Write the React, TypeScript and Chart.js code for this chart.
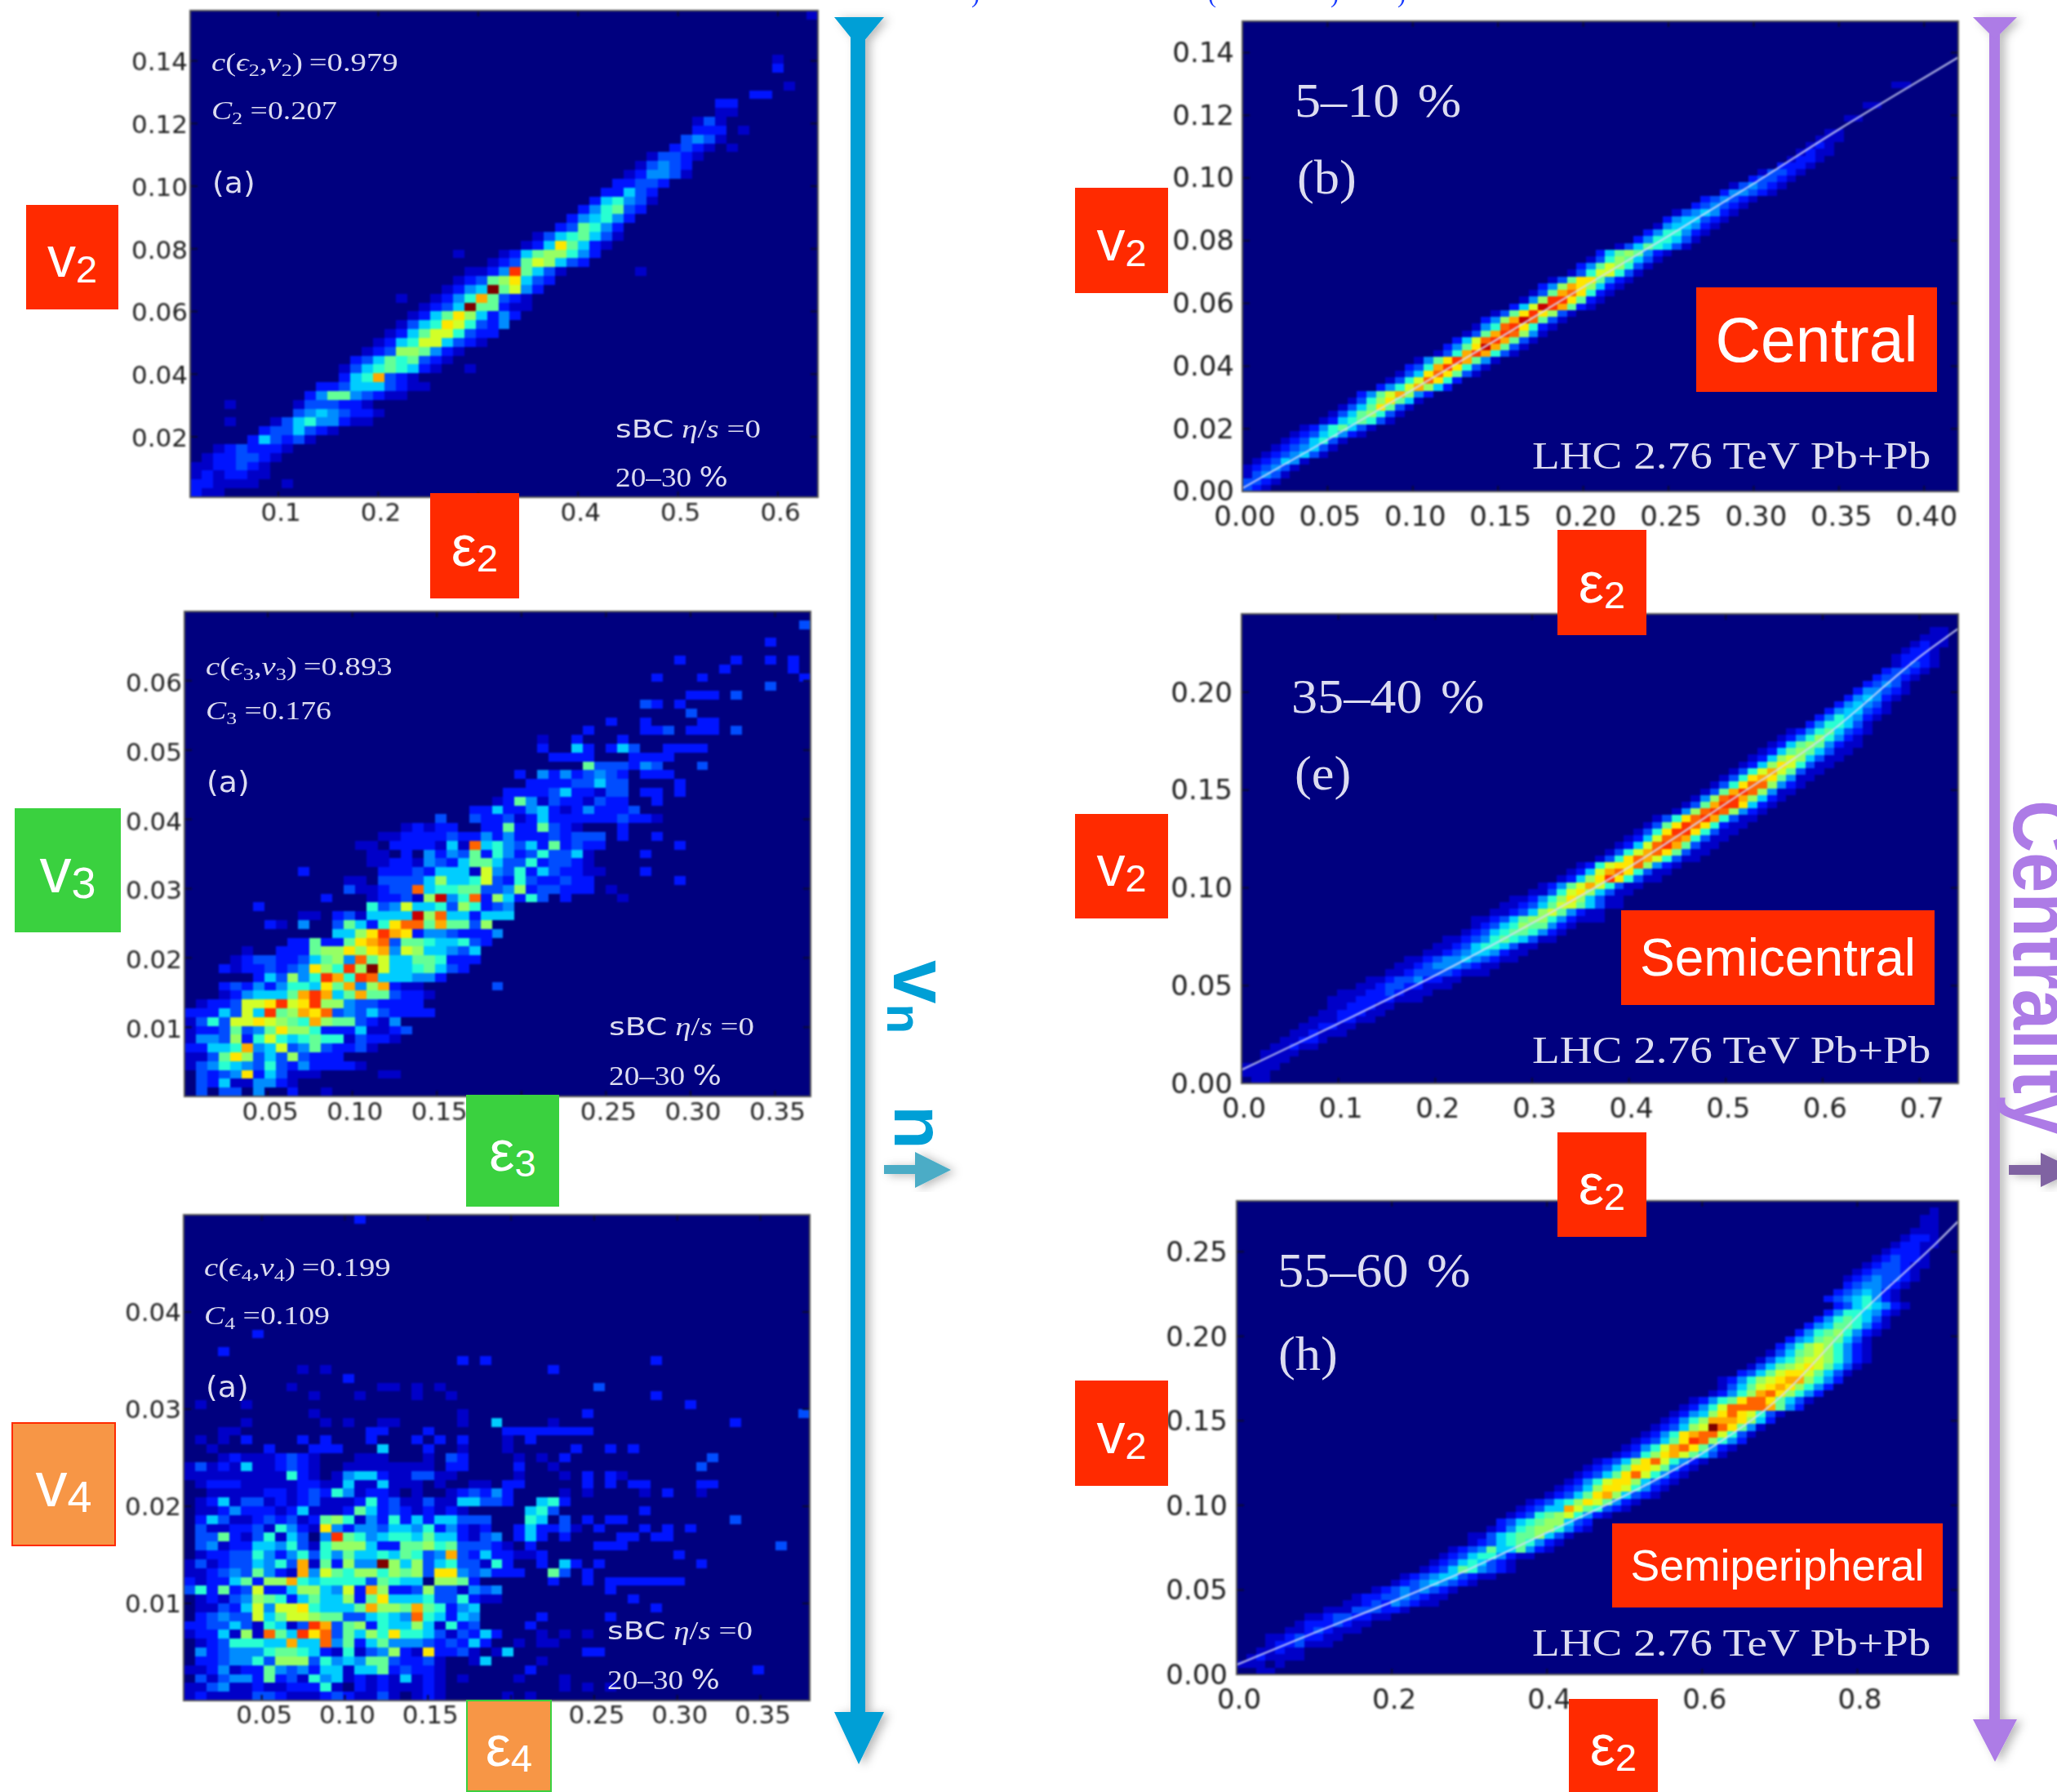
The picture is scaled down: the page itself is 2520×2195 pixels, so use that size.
import React, { useEffect, useRef } from "react";
import { Chart, registerables } from "chart.js";

Chart.register(...registerables);

type Row = [number, number, string];

// Histogram bins: [row from bottom, first column, one hex level per cell]
const cellsV2E2: Row[] = [
  [0, 0, "211"], [1, 0, "221111"], [1, 8, "1"], [2, 0, "1212211"], [3, 0, "1122321"], [4, 1, "1223321"],
  [5, 2, "1232221"], [6, 5, "253231"], [7, 6, "2335321"], [8, 3, "1000135644211"], [9, 9, "34543221"],
  [10, 3, "1"], [10, 9, "1333221"], [11, 10, "247743211"], [12, 11, "2235553211"], [13, 13, "256b321"],
  [14, 13, "135676521"], [14, 24, "1"], [15, 14, "235767321"], [16, 15, "123887421"], [17, 16, "1256995321"],
  [18, 17, "1257996322"], [19, 18, "1356a96324"], [20, 19, "1257a85242"], [21, 20, "1235f77211"],
  [22, 18, "1"], [22, 21, "1246b7321"], [23, 22, "1245f7942"], [24, 23, "12378a532"], [25, 24, "1124d7531"],
  [25, 39, "1"], [26, 26, "123798532"], [27, 23, "1"], [27, 27, "125788642"], [28, 29, "125a7521"],
  [29, 30, "13567531"], [30, 32, "237642"], [31, 33, "245642"], [32, 34, "246732"], [33, 35, "256431"],
  [34, 36, "22532"], [35, 37, "22332"], [36, 38, "124431"], [37, 39, "13432"], [38, 40, "13321"],
  [39, 42, "2321"], [39, 47, "1"], [40, 43, "3431"], [41, 44, "22201"], [42, 44, "131"], [43, 46, "11"],
  [44, 46, "22"], [45, 49, "22"], [46, 52, "1"], [48, 51, "2"], [49, 51, "1"], [54, 54, "1"],
];

const cellsV3E3: Row[] = [
  [0, 0, "0303304002001"], [1, 0, "0325114421"], [2, 0, "03234a2531110000011"], [3, 0, "1346543632422221"],
  [4, 0, "1137a835383222"], [5, 0, "22556b45934732231"], [6, 0, "1443826965676613221"],
  [7, 0, "12237347a88622251123"], [8, 0, "136399a9876b8773214"], [9, 0, "2225395d78bac343532222"],
  [10, 1, "122399ad9ad884332222"], [11, 3, "1245557bdb57b773221"], [12, 3, "232424665a7b48b211"], [12, 27, "3"],
  [13, 6, "253846db6dc555442"], [14, 3, "21223234a86d8f95567532"], [15, 4, "12332235784c7955776222"],
  [16, 5, "100222788a8ab49855435"], [17, 9, "227227abc377655632"], [18, 13, "558adba24432224"],
  [19, 7, "21040037526acc7b7738"], [20, 10, "1102315555e8c552555"], [21, 6, "20000000006349556386234"],
  [22, 12, "2000122318e46c2852630200001"], [23, 14, "311233c56677334823322201"],
  [24, 14, "110333358556932632232200000002"], [25, 10, "2000000222325551943625322110002"],
  [26, 16, "11221432577533623321"], [27, 16, "1102042437264236335100002"],
  [28, 15, "110222215"], [28, 24, "1c564352723220000002"], [29, 17, "1122223"], [29, 24, "224242223233302002"],
  [30, 19, "12122"], [30, 26, "2272273210002"], [31, 22, "3"], [31, 25, "32231252222223221"],
  [32, 25, "225224521242223"], [33, 27, "127413221322002"], [34, 28, "2222352213302202"],
  [35, 30, "22223353300002"], [36, 29, "20424234320222"], [37, 35, "73332430003"], [38, 32, "22220002222"],
  [39, 31, "200520253002222"], [40, 31, "10020002"], [41, 35, "20000223022203"], [42, 37, "2002000022"],
  [43, 44, "3"], [44, 40, "3202"], [45, 44, "22203"], [46, 51, "3"], [47, 41, "20002"], [47, 54, "2"],
  [48, 47, "2"], [48, 53, "2"], [49, 43, "200002"], [49, 51, "202"], [51, 51, "2"], [53, 54, "3"],
];

const cellsV4E4: Row[] = [
  [0, 0, "12111133211123211310121000001"], [0, 30, "1"], [1, 0, "11341121122261021211121"], [1, 33, "10101"],
  [2, 0, "0313442723164512121512101"], [2, 29, "1"], [2, 33, "1"], [3, 0, "11241227434255155723221"], [3, 30, "2"], [3, 50, "2"],
  [4, 0, "022344638883645477322310015"], [4, 31, "1"], [5, 0, "042344467765216134821a2231015"], [5, 35, "22"],
  [6, 0, "012366655b55c47257444323252"], [6, 29, "101"], [6, 32, "1"], [7, 0, "1225181c75dac37586a665313252"], [7, 31, "10101"],
  [8, 0, "22335316513db3782655851623"], [8, 30, "2"], [9, 0, "02343395799877335654c65254"], [9, 31, "2"], [9, 37, "2"],
  [10, 0, "0113259499a65557b887b76245"], [10, 41, "2"], [11, 0, "01213487625755827a5556336211"], [11, 39, "2"],
  [12, 0, "3627239225885492b82238331434"], [12, 37, "2"], [13, 0, "212257288b6566663765508872"], [13, 32, "200202222222"],
  [14, 0, "1123437421b49768868783aa434222007302"], [15, 0, "1312335463b172844f8583563316200205202"], [15, 45, "2"],
  [16, 0, "01223364246364755657634b32522112"], [16, 43, "2"], [17, 0, "034122554631688852277867333210200000222"], [17, 52, "3"],
  [18, 0, "0337213615304d76456657552134025202"], [18, 38, "22022"], [19, 0, "031122316421a42443554624212"], [19, 29, "2522310200020202"],
  [20, 0, "025311232312786142625255333"], [20, 30, "650302022"], [20, 48, "3"], [21, 0, "0112422212511127523212121"], [21, 30, "563"], [21, 40, "2"],
  [22, 0, "01251331212311126231131155332"], [22, 31, "562"], [23, 0, "00111112212326412210100123242"], [23, 33, "1010000102001"],
  [24, 0, "01222111112211511511101001102"], [24, 29, "200000202022000022"], [25, 0, "111111111621014552113311"], [25, 29, "1000102021"],
  [26, 0, "1312151123210011111111022"], [26, 29, "2001"], [26, 45, "3"], [27, 0, "0001211123210001110001032"], [27, 29, "10102"], [27, 46, "3"],
  [28, 2, "10000200022200050002001000100000200202"],
  [29, 1, "101020000202000200020202000102"], [30, 3, "11"], [30, 16, "22"], [30, 21, "2"], [30, 28, "22222222"],
  [31, 5, "1"], [31, 12, "1"], [31, 14, "1"], [31, 17, "11"], [31, 24, "1"], [31, 27, "5"], [31, 32, "1"], [31, 48, "2"],
  [32, 11, "1"], [32, 24, "1"], [32, 35, "2"], [32, 54, "3"], [33, 1, "1"], [33, 5, "1"], [33, 44, "2"],
  [34, 11, "1"], [34, 15, "1"], [34, 20, "1"], [34, 23, "1"], [34, 41, "2"], [35, 9, "1"], [35, 17, "11"], [35, 20, "1"], [35, 22, "1"], [35, 36, "3"],
  [36, 14, "2"], [37, 10, "1"], [37, 12, "1"], [37, 32, "2"], [38, 24, "2"], [38, 26, "2"], [38, 41, "2"], [39, 3, "2"], [41, 6, "2"], [54, 15, "2"],
];

const cellsCentral: Row[] = [
  [0, 0, "321"], [1, 0, "3321"], [2, 0, "13431"], [3, 0, "123431"], [4, 1, "123541"], [5, 2, "1234531"], [6, 3, "1234531"],
  [7, 4, "1235631"], [8, 5, "12356421"], [9, 6, "12467531"], [10, 8, "12567631"], [11, 9, "13578631"], [12, 10, "1357a731"],
  [13, 11, "1368a751"], [14, 12, "2479b842"], [15, 14, "2469b852"], [16, 15, "1369ca62"], [17, 16, "135aca731"], [18, 17, "236bda631"],
  [19, 18, "147adb741"], [20, 20, "136bdb631"], [21, 21, "247aeb731"], [22, 22, "259cdb731"], [23, 23, "137bdc841"], [24, 24, "146cda621"],
  [25, 25, "248bec731"], [26, 26, "137ada831"], [27, 28, "259edb721"], [28, 29, "148dda721"], [29, 30, "137bca621"], [30, 31, "248ba8521"],
  [31, 32, "137aa7421"], [32, 34, "13699631"], [33, 35, "24798631"], [34, 36, "13687531"], [35, 37, "25787421"], [36, 39, "13576531"],
  [37, 41, "2466531"], [38, 42, "2466421"], [39, 43, "1455421"], [40, 44, "2455321"], [41, 45, "1345421"], [42, 47, "234321"], [43, 48, "234321"],
  [44, 50, "244321"], [45, 51, "134321"], [46, 53, "23321"], [47, 54, "13321"], [48, 56, "2221"], [49, 57, "1221"], [50, 58, "1211"], [51, 59, "121"],
  [52, 60, "111"], [53, 61, "11"], [55, 63, "11"], [57, 65, "11"], [60, 68, "11"],
];

const cellsSemicentral: Row[] = [
  [0, 1, "11"], [1, 0, "111"], [2, 0, "1111"], [3, 2, "111"], [4, 2, "1111"], [5, 3, "11211"], [6, 4, "11221"], [7, 5, "112111"], [8, 6, "112211"],
  [9, 7, "1112211"], [10, 8, "1122211"], [11, 9, "1122211"], [12, 9, "1112222111"], [13, 10, "1112232111"], [14, 12, "1123322111"], [15, 13, "1123342211"],
  [16, 15, "11233332111"], [17, 16, "11234443211"], [18, 17, "112344543211"], [19, 19, "11234554211"], [20, 20, "11235665311"], [21, 21, "112346765311"],
  [22, 23, "12356776421"], [23, 24, "12356877421"], [24, 24, "11235788642111"], [25, 26, "112358974211"], [26, 27, "1123579975311"], [27, 28, "1124 68a85311".replace(" ", "")],
  [28, 30, "113 69a85311".replace(" ", "")], [29, 31, "1247 9b96311".replace(" ", "")], [30, 33, "1258ada6311"], [31, 34, "1259bca6311"], [32, 35, "1269aac8421"], [33, 37, "136acb96311"],
  [34, 38, "1369bca7311"], [35, 39, "1259cdb7311"], [36, 40, "1259ccb6311"], [37, 41, "136adda6311"], [38, 42, "137adca6211"], [39, 43, "136acdb6311"],
  [40, 45, "148cdc8421"], [41, 46, "137bdda521"], [42, 47, "148cdb8521"], [43, 48, "137bdc8411"], [44, 49, "136acc8421"], [45, 50, "136aba7411"],
  [46, 51, "1369b97311"], [47, 52, "1258a96311"], [48, 53, "125898 5311".replace(" ", "")], [49, 54, "1257875311"], [50, 55, "1257874211"], [51, 56, "124686421"], [52, 57, "124675321"],
  [53, 59, "2466531"], [54, 60, "2465421"], [55, 61, "2455321"], [56, 62, "245431"], [57, 63, "245421"], [58, 64, "244321"], [59, 65, "23431"],
  [60, 66, "23321"], [61, 67, "23321"], [62, 68, "12321"], [63, 68, "12221"], [64, 69, "1221"], [65, 70, "1211"], [66, 71, "111"], [67, 72, "11"],
];

const cellsSemiperipheral: Row[] = [
  [0, 2, "11"], [1, 0, "11101"], [2, 1, "121111"], [3, 2, "11211"], [4, 3, "1223111"], [5, 3, "11232211"], [6, 5, "11232111"], [7, 6, "12223211"],
  [8, 7, "112332211"], [9, 9, "111333221"], [10, 11, "1123243211"], [11, 12, "1223343211"], [12, 14, "123434321"], [13, 16, "123454321"],
  [14, 17, "1234553211"], [15, 19, "1235764321"], [16, 20, "123565321"], [17, 21, "1235664211"], [18, 22, "12347557421"], [19, 24, "1235676421"],
  [20, 24, "11356778531"], [21, 26, "12467886421"], [22, 27, "2356788532"], [23, 28, "12367896421"], [24, 29, "12355b976321"],
  [25, 30, "123568a97421"], [26, 32, "12357ab85321"], [27, 33, "12358aa96421"], [28, 34, "12469aa85321"], [29, 35, "12357ac96421"],
  [30, 36, "12357aa97421"], [31, 37, "12358ac96421"], [32, 39, "12368ab97531"], [33, 40, "12469bca7421"],
  [34, 41, "12357adc8642"], [35, 42, "1246abcc9631"], [36, 43, "123589fca741"], [37, 44, "12468bbba852"], [38, 45, "12458aca9631"],
  [39, 46, "12469ccccb742"], [40, 47, "12467acca7531"], [41, 49, "12468bca8642"], [42, 50, "13579aba8642"], [43, 50, "124689abb8642"],
  [44, 52, "23579aa97531"], [45, 53, "135789a97531"], [46, 54, "135689986421"], [47, 55, "13578986421"], [48, 56, "2468986421"], [49, 57, "245787531"],
  [50, 58, "246786421"], [51, 59, "245776421"], [52, 60, "24676531"], [53, 61, "24665421"], [54, 62, "23565421"], [55, 61, "23456421"], [56, 62, "2345421"],
  [57, 63, "2344321"], [58, 63, "12343321"], [59, 64, "1233321"], [60, 65, "1233211"], [61, 66, "123221"], [62, 67, "12221"], [63, 68, "12211"], [64, 69, "1221"],
  [65, 70, "111"], [66, 71, "11"], [67, 71, "11"], [68, 72, "1"],
];

// Fitted curves
const curveCentralX = [0, 0.05, 0.1, 0.15, 0.2, 0.25, 0.3, 0.35, 0.42];
const curveCentralY = [0.001, 0.0165, 0.0325, 0.0487, 0.0652, 0.0815, 0.0982, 0.1155, 0.1385];
const curveSemicentralX = [0, 0.1, 0.2, 0.3, 0.4, 0.5, 0.6, 0.7, 0.74];
const curveSemicentralY = [0.0069, 0.0306, 0.0552, 0.0819, 0.1105, 0.143, 0.1765, 0.218, 0.2325];
const curveSemiperipheralX = [0, 0.1, 0.2, 0.3, 0.4, 0.5, 0.6, 0.7, 0.8, 0.9, 0.93];
const curveSemiperipheralY = [0.0057, 0.0246, 0.0429, 0.0623, 0.0839, 0.1056, 0.1307, 0.1638, 0.2117, 0.2543, 0.268];

const ticksX2 = [0.1, 0.2, 0.3, 0.4, 0.5, 0.6];
const ticksY2 = [0.02, 0.04, 0.06, 0.08, 0.1, 0.12, 0.14];
const ticksX3 = [0.05, 0.1, 0.15, 0.2, 0.25, 0.3, 0.35];
const ticksY3 = [0.01, 0.02, 0.03, 0.04, 0.05, 0.06];
const ticksX4 = [0.05, 0.1, 0.15, 0.2, 0.25, 0.3, 0.35];
const ticksY4 = [0.01, 0.02, 0.03, 0.04];
const ticksXCentral = [0, 0.05, 0.1, 0.15, 0.2, 0.25, 0.3, 0.35, 0.4];
const ticksYCentral = [0, 0.02, 0.04, 0.06, 0.08, 0.1, 0.12, 0.14];
const ticksXSemicentral = [0, 0.1, 0.2, 0.3, 0.4, 0.5, 0.6, 0.7];
const ticksYSemicentral = [0, 0.05, 0.1, 0.15, 0.2];
const ticksXSemiperipheral = [0, 0.2, 0.4, 0.6, 0.8];
const ticksYSemiperipheral = [0, 0.05, 0.1, 0.15, 0.2, 0.25];

const JET = ["#00007f", "#0000c8", "#0014ff", "#004dff", "#008cff", "#00cdff", "#28ffd2", "#64ff96", "#96ff64", "#d2ff28", "#ffe600", "#ffaa00", "#ff6400", "#ff3200", "#c80000", "#7f0000"];

const heatPlugin = {
  id: "heat",
  beforeDatasetsDraw(chart: any) {
    const { ctx, chartArea: a, scales } = chart;
    const o = chart.options.plugins.heat;
    ctx.save();
    ctx.fillStyle = JET[0];
    ctx.fillRect(a.left, a.top, a.right - a.left, a.bottom - a.top);
    const pts = chart.data.datasets[0].data;
    for (const p of pts) {
      const l = Math.round(scales.x.getPixelForValue(p.x - o.dx / 2));
      const r = Math.round(scales.x.getPixelForValue(p.x + o.dx / 2));
      const t = Math.round(scales.y.getPixelForValue(p.y + o.dy / 2));
      const b = Math.round(scales.y.getPixelForValue(p.y - o.dy / 2));
      ctx.fillStyle = JET[p.v];
      ctx.fillRect(l, t, r - l, b - t);
    }
    ctx.restore();
  },
  afterDatasetsDraw(chart: any) {
    const { ctx, chartArea: a, scales } = chart;
    ctx.save();
    ctx.strokeStyle = "#0a0a30";
    ctx.lineWidth = 2;
    ctx.beginPath();
    for (const t of scales.x.ticks) {
      const px = scales.x.getPixelForValue(t.value);
      ctx.moveTo(px, a.bottom); ctx.lineTo(px, a.bottom - 7);
      ctx.moveTo(px, a.top); ctx.lineTo(px, a.top + 7);
    }
    for (const t of scales.y.ticks) {
      const py = scales.y.getPixelForValue(t.value);
      ctx.moveTo(a.left, py); ctx.lineTo(a.left + 9, py);
      ctx.moveTo(a.right, py); ctx.lineTo(a.right - 9, py);
    }
    ctx.stroke();
    ctx.strokeStyle = "#555";
    ctx.lineWidth = 2;
    ctx.strokeRect(a.left, a.top, a.right - a.left, a.bottom - a.top);
    ctx.restore();
  },
};

type Panel = {
  rows: Row[]; nx: number; ny: number; xMin: number; xMax: number; yMin: number; yMax: number;
  xTicks: number[]; yTicks: number[]; xDigits: number; yDigits: number;
  l: number; t: number; r: number; b: number; font: number; padX: number; padY: number; nudgeY: number;
  curveX?: number[]; curveY?: number[];
};

const PANELS: Panel[] = [
  { rows: cellsV2E2, nx: 55, ny: 55, xMin: 0.0117, xMax: 0.64, yMin: 0.0007, yMax: 0.156, xTicks: ticksX2, yTicks: ticksY2, xDigits: 1, yDigits: 2, l: 233, t: 13, r: 1002, b: 609, font: 31, padX: 2, padY: 3, nudgeY: 4 },
  { rows: cellsV3E3, nx: 55, ny: 55, xMin: 0.0007, xMax: 0.371, yMin: 0, yMax: 0.07, xTicks: ticksX3, yTicks: ticksY3, xDigits: 2, yDigits: 2, l: 226, t: 749, r: 993, b: 1343, font: 31, padX: 2, padY: 3, nudgeY: 5 },
  { rows: cellsV4E4, nx: 55, ny: 55, xMin: 0.003, xMax: 0.3797, yMin: 0, yMax: 0.05, xTicks: ticksX4, yTicks: ticksY4, xDigits: 2, yDigits: 2, l: 225, t: 1488, r: 992, b: 2083, font: 31, padX: 1, padY: 3, nudgeY: 3 },
  { rows: cellsCentral, nx: 75, ny: 70, xMin: 0, xMax: 0.42, yMin: 0, yMax: 0.15, xTicks: ticksXCentral, yTicks: ticksYCentral, xDigits: 2, yDigits: 2, l: 1522, t: 26, r: 2399, b: 602, font: 34, padX: 13, padY: 10, nudgeY: 2.5, curveX: curveCentralX, curveY: curveCentralY },
  { rows: cellsSemicentral, nx: 75, ny: 70, xMin: 0, xMax: 0.74, yMin: 0, yMax: 0.24, xTicks: ticksXSemicentral, yTicks: ticksYSemicentral, xDigits: 1, yDigits: 2, l: 1521, t: 752, r: 2399, b: 1327, font: 34, padX: 13, padY: 11, nudgeY: 3, curveX: curveSemicentralX, curveY: curveSemicentralY },
  { rows: cellsSemiperipheral, nx: 75, ny: 70, xMin: 0, xMax: 0.93, yMin: 0, yMax: 0.28, xTicks: ticksXSemiperipheral, yTicks: ticksYSemiperipheral, xDigits: 1, yDigits: 2, l: 1515, t: 1471, r: 2399, b: 2051, font: 34, padX: 13, padY: 11, nudgeY: 3, curveX: curveSemiperipheralX, curveY: curveSemiperipheralY },
];

const M_L = 170, M_T = 10, M_R = 60, M_B = 80;

function nudgeLabels(s: any, dx: number, dy: number) {
  const orig = s._computeLabelItems;
  if (!orig || s.__nudged) return;
  s.__nudged = true;
  s._computeLabelItems = function (area: any) {
    const items = orig.call(s, area);
    for (const it of items) {
      it.options.translation = [it.options.translation[0] + dx, it.options.translation[1] + dy];
    }
    return items;
  };
}

function HeatPanel({ p }: { p: Panel }) {
  const ref = useRef<HTMLCanvasElement>(null);
  useEffect(() => {
    const dx = (p.xMax - p.xMin) / p.nx;
    const dy = (p.yMax - p.yMin) / p.ny;
    const cells: any[] = [];
    for (const [r, c, s] of p.rows) {
      [...s].forEach((ch, i) => {
        const v = parseInt(ch, 16);
        if (v > 0) cells.push({ x: p.xMin + (c + i + 0.5) * dx, y: p.yMin + (r + 0.5) * dy, v });
      });
    }
    const datasets: any[] = [{ data: cells, pointRadius: 0, showLine: false, label: "events" }];
    if (p.curveX) {
      datasets.push({
        type: "line", label: "fit", data: p.curveX.map((x, i) => ({ x, y: p.curveY![i] })), borderColor: "rgba(215,220,250,0.85)",
        borderWidth: 2.2, pointRadius: 0, cubicInterpolationMode: "monotone", fill: false,
      });
    }
    const chart = new Chart(ref.current!, {
      type: "scatter",
      data: { datasets },
      plugins: [heatPlugin],
      options: {
        animation: false, responsive: false,
        layout: { padding: { top: M_T, right: M_R, left: 0, bottom: 0 } },
        plugins: { legend: { display: false }, tooltip: { enabled: false }, heat: { dx, dy } } as any,
        scales: {
          x: {
            type: "linear", min: p.xMin, max: p.xMax, grid: { display: false, drawTicks: false }, border: { display: false },
            afterBuildTicks: (s: any) => { s.ticks = p.xTicks.map((value) => ({ value })); },
            afterFit: (s: any) => { s.height = M_B; s.paddingLeft = 0; s.paddingRight = 0; nudgeLabels(s, 3, 0); },
            ticks: { autoSkip: false, maxRotation: 0, minRotation: 0, padding: p.padX, color: "#222", font: { family: "DejaVu Sans", size: p.font }, callback: (v: any) => Number(v).toFixed(p.xDigits) },
          },
          y: {
            type: "linear", min: p.yMin, max: p.yMax, grid: { display: false, drawTicks: false }, border: { display: false },
            afterBuildTicks: (s: any) => { s.ticks = p.yTicks.map((value) => ({ value })); },
            afterFit: (s: any) => { s.width = M_L; s.paddingTop = 0; s.paddingBottom = 0; nudgeLabels(s, 0, p.nudgeY); },
            ticks: { autoSkip: false, padding: p.padY, color: "#222", font: { family: "DejaVu Sans", size: p.font }, callback: (v: any) => Number(v).toFixed(p.yDigits) },
          },
        },
      } as any,
    });
    return () => chart.destroy();
  }, [p]);
  const w = p.r - p.l + M_L + M_R;
  const h = p.b - p.t + M_T + M_B;
  return (
    <canvas ref={ref} width={w} height={h}
      style={{ position: "absolute", left: p.l - M_L, top: p.t - M_T, width: w, height: h, filter: "blur(1.1px)" }} />
  );
}

const SANS = "'Liberation Sans', Arial, sans-serif";
const SERIF = "'Liberation Serif', 'DejaVu Serif', serif";
const RED = "#ff2a00";
const GREEN = "#3ad13f";
const ORANGE = "#f79646";

function Tag({ x0, y0, x1, y1, bg, border, main, sub, mainSize = 70, subSize = 47 }: any) {
  return (
    <div style={{
      position: "absolute", left: x0, top: y0, width: x1 - x0, height: y1 - y0, boxSizing: "border-box", background: bg,
      border: border ? `2px solid ${border}` : "none", color: "#fff", fontFamily: SANS, display: "flex", alignItems: "center", justifyContent: "center",
    }}>
      <span style={{ whiteSpace: "nowrap", lineHeight: 1, display: "inline-block" }}>
        <span style={{ fontSize: mainSize }}>{main}</span>
        <span style={{ fontSize: subSize, position: "relative", top: 7 }}>{sub}</span>
      </span>
    </div>
  );
}

function Label({ x0, y0, x1, y1, text, size }: any) {
  return (
    <div style={{
      position: "absolute", left: x0, top: y0, width: x1 - x0, height: y1 - y0, background: RED, color: "#fff",
      fontFamily: SANS, fontSize: size, display: "flex", alignItems: "center", justifyContent: "center",
    }}>{text}</div>
  );
}

function Note({ x, base, size, family = SERIF, asc = 0.891, sx = 1, children }: any) {
  return (
    <div style={{
      position: "absolute", left: x, top: base - size * asc, fontFamily: family, fontSize: size, color: "#dcdcf0",
      whiteSpace: "nowrap", lineHeight: "normal", filter: "blur(0.6px)", transformOrigin: "0 0", transform: `scaleX(${sx})`,
    }}>{children}</div>
  );
}

const Sb = ({ children }: any) => (
  <span style={{ fontSize: "0.68em", position: "relative", top: "0.28em", fontStyle: "normal" }}>{children}</span>
);

function LeftNotes({ n, x, base1, base2, ax, abase, sx, sbase, pbase, corr, cn }: any) {
  return (
    <>
      <Note x={x} base={base1} size={31} sx={1.25}><i>c</i>(<i>ϵ</i><Sb>{n}</Sb>,<i>v</i><Sb>{n}</Sb>)&thinsp;={corr}</Note>
      <Note x={x} base={base2} size={31} sx={1.22}><i>C</i><Sb>{n}</Sb> ={cn}</Note>
      <Note x={ax} base={abase} size={35} family="'DejaVu Sans'" asc={0.928} sx={1.08}>(a)</Note>
      <Note x={sx} base={sbase} size={31} sx={1.26}><span style={{ fontFamily: "'DejaVu Sans'", fontSize: 30 }}>sBC</span> <i>η</i>/<i>s</i> =0</Note>
      <Note x={sx} base={pbase} size={33} sx={1.13}>20–30 <span style={{ fontFamily: "'DejaVu Sans'" }}>%</span></Note>
    </>
  );
}

export default function App() {
  useEffect(() => { document.body.style.margin = "0"; }, []);
  return (
    <div style={{ position: "absolute", left: 0, top: 0, width: 2520, height: 2195, overflow: "hidden", background: "#fff" }}>
      {PANELS.map((p, i) => <HeatPanel key={i} p={p} />)}

      <svg width={2520} height={2195} style={{ position: "absolute", left: 0, top: 0 }}>
        <defs>
          <filter id="sh" x="-100%" width="300%"><feDropShadow dx="6" dy="2" stdDeviation="6" floodColor="#000" floodOpacity="0.28" /></filter>
        </defs>
        <g filter="url(#sh)">
          <rect x={1042} y={30} width={18} height={2080} fill="#009fd6" />
          <polygon points="1022,21 1083,21 1052,58" fill="#009fd6" />
          <polygon points="1022,2097 1083,2097 1052,2161" fill="#009fd6" />
        </g>
        <g filter="url(#sh)">
          <rect x={2437} y={30} width={13} height={2090} fill="#ad7be6" />
          <polygon points="2417,21 2471,21 2444,48" fill="#ad7be6" />
          <polygon points="2417,2106 2471,2106 2444,2158" fill="#ad7be6" />
        </g>
        <g filter="url(#sh)">
          <rect x={1083} y={1427} width={40} height={11} fill="#4bacc6" />
          <polygon points="1121,1411 1165,1433 1121,1455" fill="#4bacc6" />
          <rect x={2461} y={1427} width={42} height={12} fill="#8064a2" />
          <polygon points="2500,1412 2544,1433 2500,1454" fill="#8064a2" />
        </g>
      </svg>

      <div style={{ position: "absolute", left: 1176, top: 1176, transformOrigin: "0 0", transform: "rotate(90deg)", fontFamily: SANS, fontWeight: 700, color: "#009fd6", whiteSpace: "nowrap", fontSize: 96, lineHeight: 1 }}>
        v<span style={{ fontSize: 60, position: "relative", top: 8 }}>n</span>
      </div>
      <div style={{ position: "absolute", left: 1170, top: 1354, transformOrigin: "0 0", transform: "rotate(90deg)", fontFamily: SANS, fontWeight: 700, color: "#009fd6", fontSize: 88, lineHeight: 1 }}>n</div>
      <div style={{ position: "absolute", left: 2553, top: 980, transformOrigin: "0 0", transform: "rotate(90deg) scaleX(0.87)", fontFamily: SANS, fontWeight: 700, color: "#ad7be6", fontSize: 102, lineHeight: 1, whiteSpace: "nowrap" }}>Centrality</div>

      <LeftNotes n={2} corr="0.979" cn="0.207" x={259} base1={87} base2={146} ax={260} abase={236} sx={754} sbase={536} pbase={594} />
      <LeftNotes n={3} corr="0.893" cn="0.176" x={252} base1={827} base2={881} ax={253} abase={970} sx={746} sbase={1268} pbase={1327} />
      <LeftNotes n={4} corr="0.199" cn="0.109" x={250} base1={1563} base2={1622} ax={252} abase={1711} sx={744} sbase={2008} pbase={2067} />

      <Note x={1586} base={142} size={60} sx={1.07}>5–10 <span style={{ marginLeft: 6 }}>%</span></Note>
      <Note x={1589} base={236} size={60} sx={1.04}>(b)</Note>
      <Note x={1877} base={573} size={46} sx={1.2}>LHC 2.76 TeV Pb+Pb</Note>
      <Note x={1582} base={872} size={60} sx={1.07}>35–40 <span style={{ marginLeft: 6 }}>%</span></Note>
      <Note x={1586} base={966} size={60} sx={1.04}>(e)</Note>
      <Note x={1877} base={1301} size={46} sx={1.2}>LHC 2.76 TeV Pb+Pb</Note>
      <Note x={1565} base={1575} size={60} sx={1.07}>55–60 <span style={{ marginLeft: 6 }}>%</span></Note>
      <Note x={1566} base={1677} size={60} sx={1.04}>(h)</Note>
      <Note x={1877} base={2027} size={46} sx={1.2}>LHC 2.76 TeV Pb+Pb</Note>

      <Tag x0={32} y0={251} x1={145} y1={379} bg={RED} main="v" sub="2" />
      <Tag x0={527} y0={604} x1={636} y1={733} bg={RED} main="ε" sub="2" />
      <Tag x0={18} y0={990} x1={148} y1={1142} bg={GREEN} main="v" sub="3" mainSize={78} subSize={54} />
      <Tag x0={571} y0={1341} x1={685} y1={1478} bg={GREEN} main="ε" sub="3" />
      <Tag x0={14} y0={1742} x1={142} y1={1894} bg={ORANGE} border={RED} main="v" sub="4" mainSize={78} subSize={54} />
      <Tag x0={571} y0={2082} x1={676} y1={2195} bg={ORANGE} border={GREEN} main="ε" sub="4" />
      <Tag x0={1317} y0={230} x1={1431} y1={359} bg={RED} main="v" sub="2" />
      <Tag x0={1908} y0={649} x1={2017} y1={778} bg={RED} main="ε" sub="2" />
      <Tag x0={1317} y0={997} x1={1431} y1={1125} bg={RED} main="v" sub="2" />
      <Tag x0={1908} y0={1387} x1={2017} y1={1515} bg={RED} main="ε" sub="2" />
      <Tag x0={1317} y0={1691} x1={1431} y1={1820} bg={RED} main="v" sub="2" />
      <Tag x0={1922} y0={2081} x1={2031} y1={2195} bg={RED} main="ε" sub="2" />
      <Label x0={2078} y0={352} x1={2373} y1={480} text="Central" size={77} />
      <Label x0={1986} y0={1115} x1={2370} y1={1231} text="Semicentral" size={64} />
      <Label x0={1975} y0={1866} x1={2380} y1={1969} text="Semiperipheral" size={53.5} />

      <div style={{ position: "absolute", left: 0, top: -24, width: 2520, height: 34, overflow: "hidden", color: "#1a3cff", fontFamily: SERIF, fontSize: 30 }}>
        <span style={{ position: "absolute", left: 1190 }}>)</span>
        <span style={{ position: "absolute", left: 1480 }}>(</span>
        <span style={{ position: "absolute", left: 1630 }}>)</span>
        <span style={{ position: "absolute", left: 1712 }}>)</span>
      </div>
    </div>
  );
}
